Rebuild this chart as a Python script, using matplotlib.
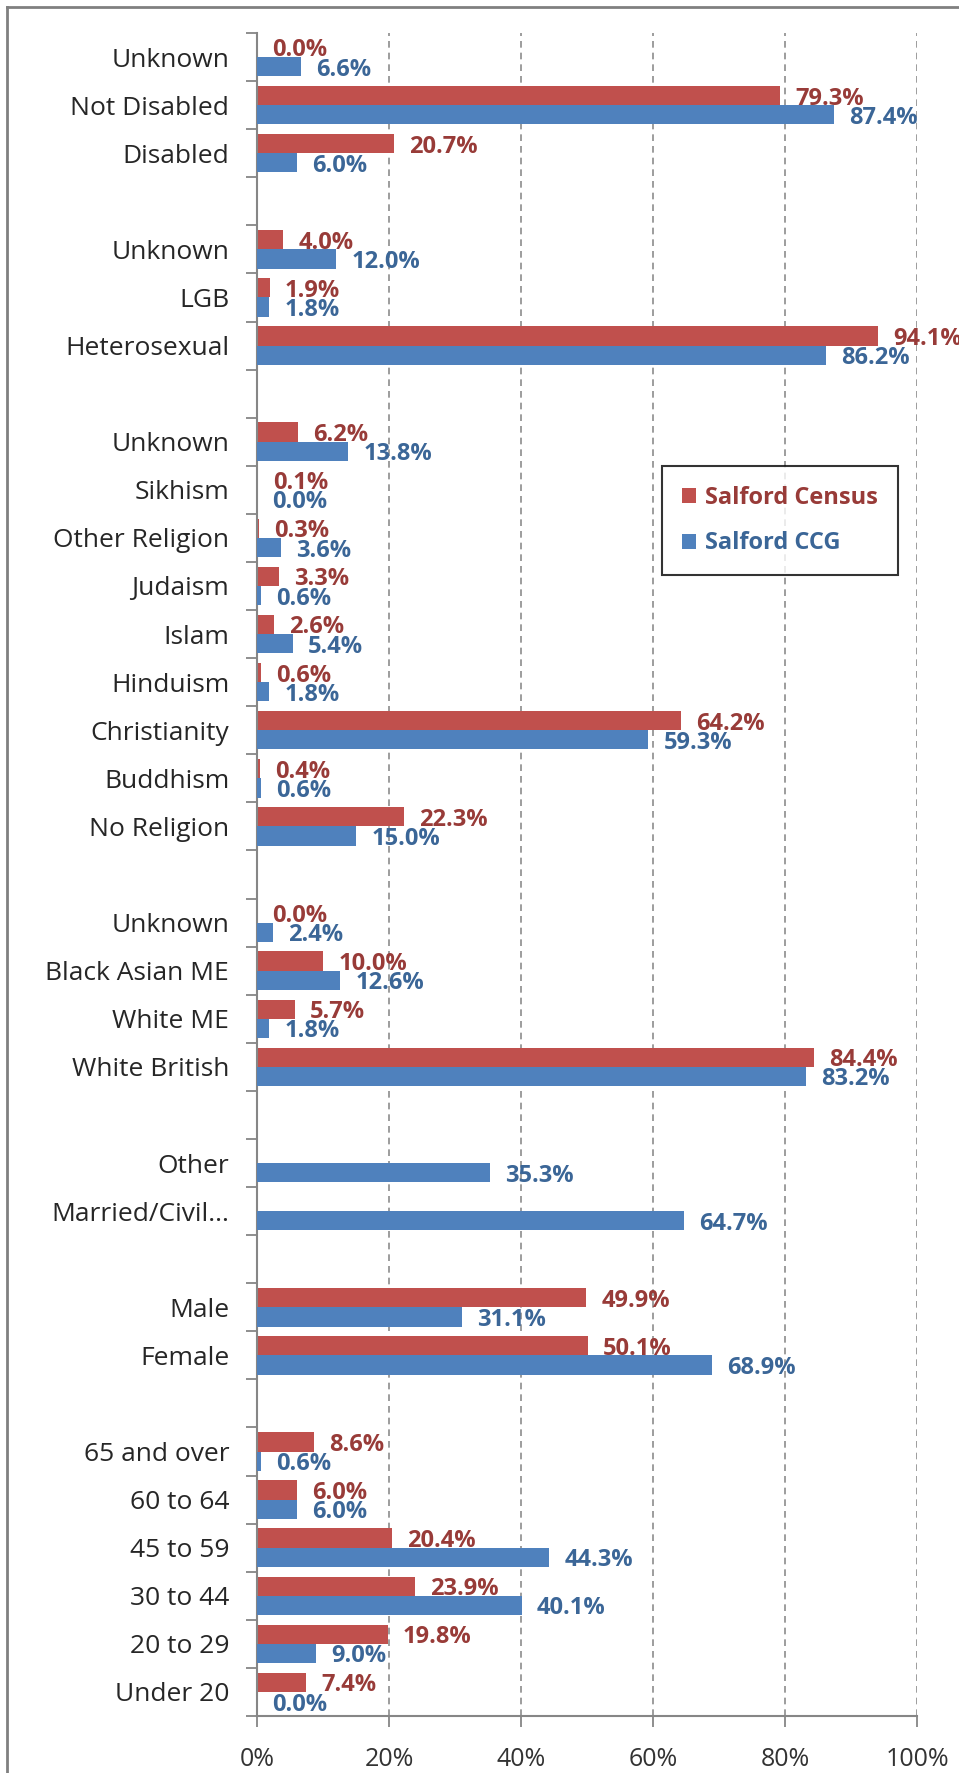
import numpy as np
import matplotlib
matplotlib.use("Agg")
import matplotlib.pyplot as plt
from matplotlib.patches import Patch
from matplotlib.lines import Line2D
from matplotlib.ticker import FixedLocator

plt.rcParams['font.family'] = ['Open Sans', 'DejaVu Sans']

# Categories listed bottom to top; empty strings are spacer rows between groups
categories = [
    "Under 20", "20 to 29", "30 to 44", "45 to 59", "60 to 64", "65 and over",
    "",
    "Female", "Male",
    "",
    "Married/Civil...", "Other",
    "",
    "White British", "White ME", "Black Asian ME", "Unknown",
    "",
    "No Religion", "Buddhism", "Christianity", "Hinduism", "Islam", "Judaism",
    "Other Religion", "Sikhism", "Unknown",
    "",
    "Heterosexual", "LGB", "Unknown",
    "",
    "Disabled", "Not Disabled", "Unknown",
]

nan = np.nan
census = [
    7.4, 19.8, 23.9, 20.4, 6.0, 8.6,
    nan,
    50.1, 49.9,
    nan,
    nan, nan,
    nan,
    84.4, 5.7, 10.0, 0.0,
    nan,
    22.3, 0.4, 64.2, 0.6, 2.6, 3.3, 0.3, 0.1, 6.2,
    nan,
    94.1, 1.9, 4.0,
    nan,
    20.7, 79.3, 0.0,
]
ccg = [
    0.0, 9.0, 40.1, 44.3, 6.0, 0.6,
    nan,
    68.9, 31.1,
    nan,
    64.7, 35.3,
    nan,
    83.2, 1.8, 12.6, 2.4,
    nan,
    15.0, 0.6, 59.3, 1.8, 5.4, 0.6, 3.6, 0.0, 13.8,
    nan,
    86.2, 1.8, 12.0,
    nan,
    6.0, 87.4, 6.6,
]
series_names = ["Salford Census", "Salford CCG"]
x_ticks = [0, 20, 40, 60, 80, 100]
x_tick_labels = ["0%", "20%", "40%", "60%", "80%", "100%"]

bar_colors = ["#C0504D", "#4F81BD"]
label_colors = ["#983B38", "#3B6697"]

W, H = 959, 1773
fig = plt.figure(figsize=(W / 100, H / 100), dpi=100)
ax = fig.add_axes([257 / W, 57 / H, 660 / W, 1683 / H])

y = np.arange(len(categories))
bh = 0.4
series = [np.array(census, dtype=float), np.array(ccg, dtype=float)]
offsets = [bh / 2, -bh / 2]

for k, (vals, off) in enumerate(zip(series, offsets)):
    ax.barh(y + off, np.nan_to_num(vals), height=bh, color=bar_colors[k],
            zorder=2 + 2 * k, linewidth=0)
    for yi, v in zip(y, vals):
        if np.isnan(v):
            continue
        ax.annotate(f"{v:.1f}%", xy=(v, yi + off), xytext=(11, 0),
                    textcoords="offset points", ha="left", va="center_baseline",
                    fontsize=17, fontweight="bold", color=label_colors[k],
                    zorder=3 + 2 * k, annotation_clip=False)

ax.set_xlim(0, 100)
ax.set_ylim(-0.5, len(categories) - 0.5)

ax.set_xticks(x_ticks)
ax.set_xticklabels(x_tick_labels, fontsize=18, color="#333333")
ax.set_yticks(y)
ax.set_yticklabels(categories, fontsize=19, color="#262626")
ax.yaxis.set_minor_locator(FixedLocator(np.arange(-0.5, len(categories), 1.0)))
ax.tick_params(axis="y", which="major", length=0, pad=20)
ax.tick_params(axis="y", which="minor", length=8, width=1.3, color="#868686")
ax.tick_params(axis="x", which="major", length=8, width=1.3, color="#868686",
               pad=14)

for side in ("top", "right"):
    ax.spines[side].set_visible(False)
for side in ("left", "bottom"):
    ax.spines[side].set_color("#868686")
    ax.spines[side].set_linewidth(1.5)

for xv in x_ticks[1:]:
    ax.axvline(xv, color="#8c8c8c", linewidth=1.2, linestyle=(0, (4, 3)),
               zorder=1)

handles = [Patch(facecolor=c, edgecolor="none") for c in bar_colors]
leg = ax.legend(handles, series_names, loc="upper left",
                bbox_to_anchor=(0.614, 0.7427), borderaxespad=0,
                frameon=True, fancybox=False, edgecolor="black",
                prop={"size": 17, "weight": "bold"},
                handlelength=0.6, handleheight=0.6, handletextpad=0.35,
                labelspacing=0.9, borderpad=0.85)
leg.get_frame().set_linewidth(1.5)
for t, c in zip(leg.get_texts(), label_colors):
    t.set_color(c)
leg.set_zorder(10)

# outer chart border (extends past the right and bottom edges)
fig.add_artist(Line2D([7 / W, 7 / W], [0, 1 - 7 / H], transform=fig.transFigure,
                      color="#808080", linewidth=2))
fig.add_artist(Line2D([7 / W, 1], [1 - 7 / H, 1 - 7 / H], transform=fig.transFigure,
                      color="#808080", linewidth=2))

fig.savefig("out.png", dpi=100)
